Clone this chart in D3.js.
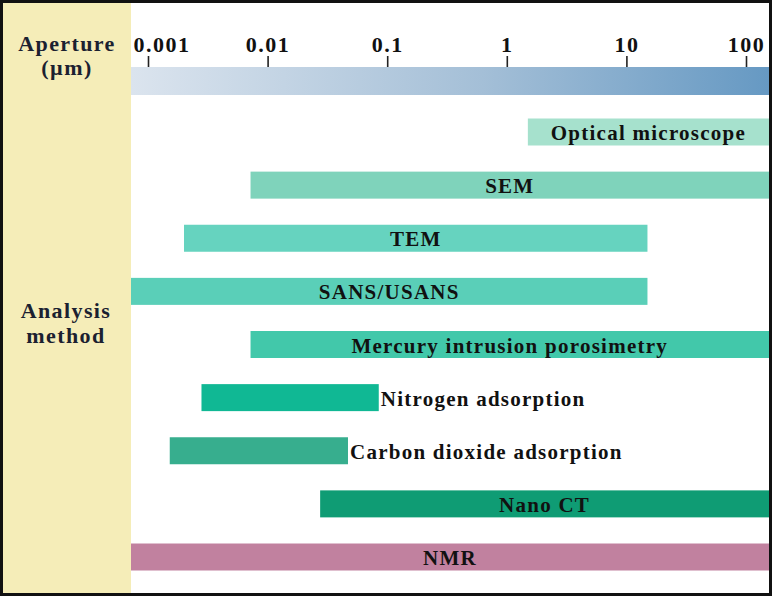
<!DOCTYPE html>
<html>
<head>
<meta charset="utf-8">
<script src="https://cdn.jsdelivr.net/npm/d3@7"></script>
<style>
  body { margin: 0; background: #fff; }
  svg { display: block; }
  text { font-family: "Liberation Serif", "Times New Roman", serif; font-weight: bold; }
</style>
</head>
<body>
<svg width="772" height="596"></svg>
<script>
// Analysis methods and the aperture range (µm) each one covers
var methods = ['Optical microscope', 'SEM', 'TEM', 'SANS/USANS',
    'Mercury intrusion porosimetry', 'Nitrogen adsorption',
    'Carbon dioxide adsorption', 'Nano CT', 'NMR'];
var minAperture = [1.5, 0.0072, 0.002, 0.0007, 0.0072, 0.0028, 0.00152, 0.0275, 0.0007];
var maxAperture = [160, 160, 15, 15, 160, 0.085, 0.047, 160, 160];
var barColors = ['#a6e1cd', '#7fd3bb', '#66d3bf', '#5acfb8', '#42c8aa',
    '#10b894', '#37ae8e', '#0f9c74', '#c1819f'];
// label inside the bar or just after it
var labelPlace = ['in', 'in', 'in', 'in', 'in', 'out', 'out', 'in', 'in'];

var tickValues = [0.001, 0.01, 0.1, 1, 10, 100];
var tickLabels = ['0.001', '0.01', '0.1', '1', '10', '100'];

var svg = d3.select('svg');
var W = +svg.attr('width');
var H = +svg.attr('height');

var panelW = 131;          // yellow label column
var plotL = panelW, plotR = 769;

var x = d3.scaleLog().domain([0.001, 100]).range([148, 746]);
var y = d3.scalePoint().domain(methods).range([132, 557]);
var barH = 27;

// gradient for the aperture bar
var defs = svg.append('defs');
var grad = defs.append('linearGradient').attr('id', 'apGrad');
grad.append('stop').attr('offset', '0%').attr('stop-color', '#dbe4ee');
grad.append('stop').attr('offset', '55%').attr('stop-color', '#a4bfd7');
grad.append('stop').attr('offset', '100%').attr('stop-color', '#6699c3');

defs.append('clipPath').attr('id', 'plotClip')
    .append('rect')
    .attr('x', plotL).attr('y', 0)
    .attr('width', plotR - plotL).attr('height', H);

// left column
svg.append('rect')
    .attr('x', 0).attr('y', 0)
    .attr('width', panelW).attr('height', H)
    .attr('fill', '#f5edb8');

var leftText = svg.append('g')
    .attr('fill', '#1b2130')
    .style('font-size', '22px')
    .style('letter-spacing', '1.4px')
    .attr('text-anchor', 'middle');
leftText.append('text').attr('x', 67).attr('y', 51).text('Aperture');
leftText.append('text').attr('x', 67).attr('y', 75).text('(µm)');
leftText.append('text').attr('x', 66).attr('y', 318).text('Analysis');
leftText.append('text').attr('x', 66).attr('y', 343).text('method');

// aperture scale bar + axis
svg.append('rect')
    .attr('x', plotL).attr('y', 67)
    .attr('width', plotR - plotL).attr('height', 28)
    .attr('fill', 'url(#apGrad)');

var axis = svg.append('g')
    .attr('transform', 'translate(0,67)')
    .call(d3.axisTop(x)
        .tickValues(tickValues)
        .tickSize(11)
        .tickPadding(4)
        .tickFormat(function(d, i) { return tickLabels[i]; }));
axis.select('.domain').remove();
axis.selectAll('line').attr('stroke', '#222').attr('stroke-width', 1.6);
axis.selectAll('text')
    .attr('fill', '#111')
    .style('font-size', '22px')
    .style('letter-spacing', '1.5px');
// first label sits to the right of its tick so it clears the side panel
axis.select('.tick text').attr('text-anchor', 'start').attr('x', -15);

// bars
var rows = methods.map(function(m, i) {
    return { name: m, lo: minAperture[i], hi: maxAperture[i], color: barColors[i], place: labelPlace[i] };
});

var barsG = svg.append('g').attr('clip-path', 'url(#plotClip)');
barsG.selectAll('.bar')
    .data(rows)
    .enter()
    .append('rect')
    .attr('class', 'bar')
    .attr('x', function(d) { return x(d.lo); })
    .attr('y', function(d) { return y(d.name) - barH / 2; })
    .attr('width', function(d) { return x(d.hi) - x(d.lo); })
    .attr('height', barH)
    .attr('fill', function(d) { return d.color; });

svg.append('g').selectAll('.lbl')
    .data(rows)
    .enter()
    .append('text')
    .attr('class', 'lbl')
    .attr('x', function(d) {
        var a = Math.max(x(d.lo), plotL), b = Math.min(x(d.hi), plotR);
        return d.place === 'in' ? (a + b) / 2 : b + 2;
    })
    .attr('y', function(d) { return y(d.name) + 8; })
    .attr('text-anchor', function(d) { return d.place === 'in' ? 'middle' : 'start'; })
    .attr('fill', '#111')
    .style('font-size', '21px')
    .style('letter-spacing', '1.25px')
    .text(function(d) { return d.name; });

// outer frame
svg.append('rect')
    .attr('x', 1.5).attr('y', 1.5)
    .attr('width', W - 3).attr('height', H - 3)
    .attr('fill', 'none')
    .attr('stroke', '#111')
    .attr('stroke-width', 3);
</script>
</body>
</html>
